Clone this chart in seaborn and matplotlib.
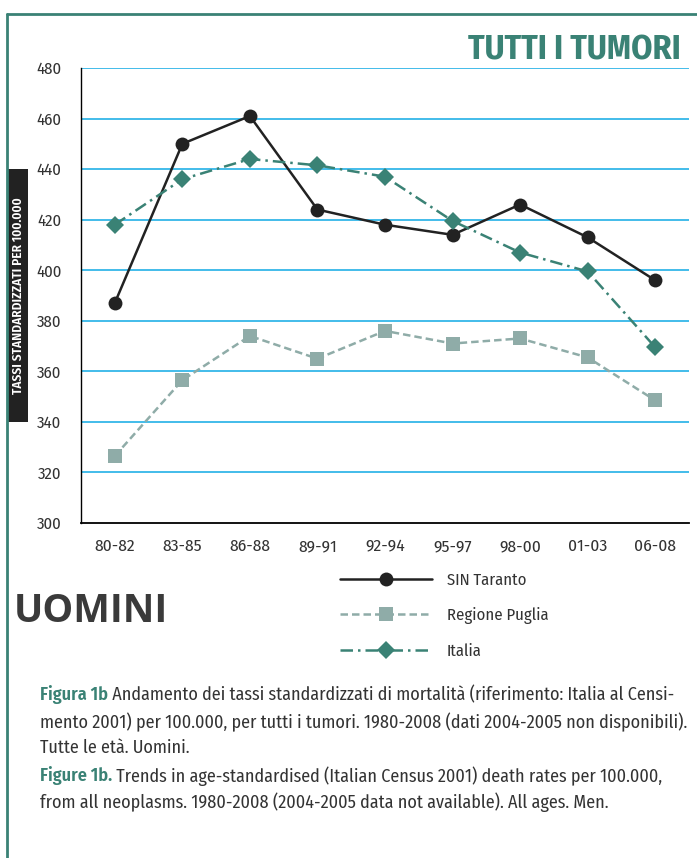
import matplotlib
matplotlib.use("Agg")
import matplotlib.pyplot as plt
from matplotlib.lines import Line2D
from matplotlib.patches import Rectangle
import pandas as pd
import seaborn as sns

# data
periods = ["80-82", "83-85", "86-88", "89-91", "92-94", "95-97", "98-00", "01-03", "06-08"]
sin_taranto = [387, 450, 461, 424, 418, 414, 426, 413, 396]
regione_puglia = [326.5, 356.5, 374, 365, 376, 371, 373, 365.5, 348.5]
italia = [418, 436, 444, 441.5, 437, 419.5, 407, 399.5, 369.5]
series_names = ["SIN Taranto", "Regione Puglia", "Italia"]
y_ticks = list(range(300, 481, 20))

TEAL = "#3a8275"
GREY_TEAL = "#8faca8"
DARK = "#222222"
BLUE = "#22b0e6"
FONT = "Fira Sans Condensed"

sns.set_theme(style="white")
plt.rcParams["font.family"] = [FONT, "DejaVu Sans"]

df = pd.DataFrame({
    "idx": list(range(len(periods))) * 3,
    "rate": sin_taranto + regione_puglia + italia,
    "serie": [s for s in series_names for _ in periods],
})

fig = plt.figure(figsize=(6.97, 8.58), dpi=100)
ax = fig.add_axes([81 / 697, 1 - 523 / 858, 608 / 697, 455 / 858])

sns.lineplot(
    data=df, x="idx", y="rate", hue="serie", style="serie",
    hue_order=series_names, style_order=series_names,
    palette={"SIN Taranto": DARK, "Regione Puglia": GREY_TEAL, "Italia": TEAL},
    markers={"SIN Taranto": "o", "Regione Puglia": "s", "Italia": "D"},
    dashes={"SIN Taranto": "", "Regione Puglia": (3, 1.6), "Italia": (5, 2, 1, 2)},
    linewidth=1.8, markersize=10, markeredgewidth=0, ax=ax, legend=True, zorder=3,
)
for ln in ax.lines:
    if ln.get_marker() == "D":
        ln.set_markersize(9)

ax.set_xlim(-0.5, len(periods) - 0.5)
ax.set_ylim(300, 480)
ax.set_yticks(y_ticks)
ax.set_yticklabels([str(v) for v in y_ticks], fontsize=12, color="#333333")
ax.set_xticks(range(len(periods)))
ax.set_xticklabels(periods, fontsize=12.5, color="#333333")
ax.set_xticks([i - 0.5 for i in range(len(periods) + 1)], minor=True)
ax.tick_params(axis="x", which="major", length=0, pad=11)
ax.tick_params(axis="x", which="minor", length=12, width=1, color=BLUE, direction="out")
ax.tick_params(axis="y", which="major", length=10, width=1.2, color=BLUE, direction="out", pad=4)
ax.set_xlabel("")
ax.set_ylabel("")
for y in y_ticks[1:]:
    ax.axhline(y, color=BLUE, lw=1.2, zorder=1)
for side in ["top", "right"]:
    ax.spines[side].set_visible(False)
ax.spines["left"].set_color("black")
ax.spines["left"].set_linewidth(1)
ax.spines["bottom"].set_color("black")
ax.spines["bottom"].set_linewidth(1.3)

# legend
handles, labels = ax.get_legend_handles_labels()
ax.get_legend().remove()
fig.legend(handles, labels, loc="upper left", bbox_to_anchor=(325 / 697, 1 - 557 / 858),
           frameon=False, fontsize=12, handlelength=5.5, handletextpad=0.9,
           labelspacing=1.15, labelcolor="#333333")

# titles
fig.text(681 / 697, 1 - 50 / 858, "TUTTI I TUMORI", ha="right", va="center",
         fontsize=24.5, fontweight="bold", color=TEAL)
fig.text(14 / 697, 1 - 612 / 858, "UOMINI", ha="left", va="center",
         fontsize=28, fontweight="bold", color="#3a3a3a", family=["Open Sans", "DejaVu Sans"])

# y label box
fig.add_artist(Rectangle((8 / 697, 1 - 422 / 858), 20 / 697, 253 / 858,
                         transform=fig.transFigure, color="#222222", lw=0))
fig.text(18 / 697, 1 - 296 / 858, "TASSI STANDARDIZZATI PER 100.000", rotation=90,
         ha="center", va="center", fontsize=9.5, fontweight="semibold", color="white")

# frame
fig.add_artist(Line2D([7 / 697, 7 / 697], [0, 1 - 14 / 858], transform=fig.transFigure,
                      color=TEAL, lw=2))
fig.add_artist(Line2D([7 / 697, 1], [1 - 14 / 858, 1 - 14 / 858], transform=fig.transFigure,
                      color=TEAL, lw=2))

# caption
cap_x = 40 / 697
cap = [
    ("Figura 1b", " Andamento dei tassi standardizzati di mortalità (riferimento: Italia al Censi-", 695),
    ("", "mento 2001) per 100.000, per tutti i tumori. 1980-2008 (dati 2004-2005 non disponibili).", 722),
    ("", "Tutte le età. Uomini.", 748),
    ("Figure 1b.", " Trends in age-standardised (Italian Census 2001) death rates per 100.000,", 776),
    ("", "from all neoplasms. 1980-2008 (2004-2005 data not available). All ages. Men.", 802),
]
for bold, rest, ypix in cap:
    y = 1 - ypix / 858
    if bold:
        t = fig.text(cap_x, y, bold, ha="left", va="center", fontsize=13,
                     fontweight="semibold", color=TEAL)
        fig.canvas.draw()
        bb = t.get_window_extent()
        fig.text(bb.x1 / fig.bbox.width, y, rest, ha="left", va="center",
                 fontsize=13, color="#333333")
    else:
        fig.text(cap_x, y, rest, ha="left", va="center", fontsize=13, color="#333333")

fig.savefig("out.png", dpi=100)
